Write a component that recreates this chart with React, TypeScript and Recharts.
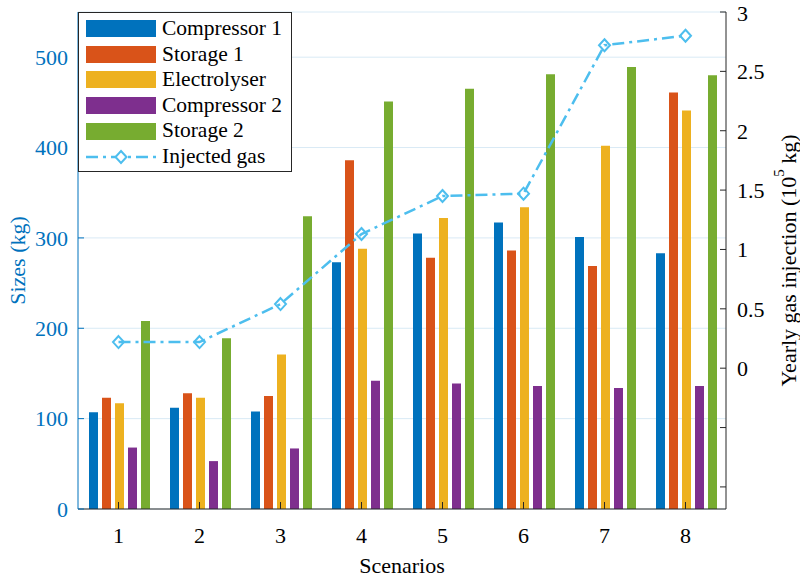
import React from 'react';
import { ComposedChart, Bar, Line, XAxis, YAxis, CartesianGrid, Legend } from 'recharts';

const SCENARIOS = ['1', '2', '3', '4', '5', '6', '7', '8'];
const COMPRESSOR_1 = [107, 112, 108, 273, 305, 317, 301, 283];
const STORAGE_1 = [123, 128, 125, 386, 278, 286, 269, 461];
const ELECTROLYSER = [117, 123, 171, 288, 322, 334, 402, 441];
const COMPRESSOR_2 = [68, 53, 67, 142, 139, 136, 134, 136];
const STORAGE_2 = [208, 189, 324, 451, 465, 481, 489, 480];
const INJECTED_GAS = [0.22, 0.22, 0.54, 1.13, 1.45, 1.47, 2.72, 2.8];

const LEFT_TICKS = [0, 100, 200, 300, 400, 500];
const RIGHT_TICKS = [-1, -0.5, 0, 0.5, 1, 1.5, 2, 2.5, 3];

const FONT = '"Liberation Serif", "Times New Roman", serif';
const BLUE = '#0072BD';
const DARK = '#262626';
const LINE_COLOR = '#4DBEEE';
const DASH = '12 5 3 5';

const BAR_SERIES = [
  { key: 'c1', name: 'Compressor 1', color: '#0072BD' },
  { key: 's1', name: 'Storage 1', color: '#D95319' },
  { key: 'el', name: 'Electrolyser', color: '#EDB120' },
  { key: 'c2', name: 'Compressor 2', color: '#7E2F8E' },
  { key: 's2', name: 'Storage 2', color: '#77AC30' },
];

const data = SCENARIOS.map((s, i) => ({
  scenario: s,
  c1: COMPRESSOR_1[i],
  s1: STORAGE_1[i],
  el: ELECTROLYSER[i],
  c2: COMPRESSOR_2[i],
  s2: STORAGE_2[i],
  gas: INJECTED_GAS[i],
}));

const Diamond = (props: any) => {
  const { cx, cy } = props;
  if (cx == null || cy == null) return null;
  return (
    <polygon
      points={`${cx},${cy - 6} ${cx + 5.5},${cy} ${cx},${cy + 6} ${cx - 5.5},${cy}`}
      fill="none"
      stroke={LINE_COLOR}
      strokeWidth={2}
    />
  );
};

// axis titles, placed from the axis viewBox
const LeftTitle = (props: any) => {
  const { x, y, height } = props.viewBox;
  const cx = x + 17;
  const cy = y + height / 2;
  return (
    <text x={cx} y={cy} transform={`rotate(-90, ${cx}, ${cy})`} textAnchor="middle"
      dominantBaseline="central" fill={BLUE} fontSize={22} fontFamily={FONT}>
      Sizes (kg)
    </text>
  );
};

const RightTitle = (props: any) => {
  const { x, y, height } = props.viewBox;
  const cx = x + 62;
  const cy = y + height / 2;
  return (
    <text x={cx} y={cy} transform={`rotate(-90, ${cx}, ${cy})`} textAnchor="middle"
      dominantBaseline="central" fill="#000" fontSize={22} fontFamily={FONT}>
      Yearly gas injection (10<tspan dy={-9} fontSize={15}>5</tspan><tspan dy={9}> kg)</tspan>
    </text>
  );
};

const BottomTitle = (props: any) => {
  const { x, y, width } = props.viewBox;
  return (
    <text x={x + width / 2} y={y + 64} textAnchor="middle" fill="#000" fontSize={22} fontFamily={FONT}>
      Scenarios
    </text>
  );
};

const LegendBox = () => (
  <div
    style={{
      border: `1px solid ${DARK}`,
      background: '#fff',
      width: 214,
      height: 160,
      boxSizing: 'border-box',
      paddingTop: 3,
      fontFamily: FONT,
      fontSize: 21.5,
      color: '#000',
    }}
  >
    {BAR_SERIES.map((s) => (
      <div key={s.key} style={{ display: 'flex', alignItems: 'center', height: 25.6 }}>
        <div style={{ width: 70, height: 17, background: s.color, marginLeft: 7 }} />
        <span style={{ marginLeft: 6, lineHeight: 1 }}>{s.name}</span>
      </div>
    ))}
    <div style={{ display: 'flex', alignItems: 'center', height: 25.6 }}>
      <svg width={70} height={20} style={{ marginLeft: 7 }}>
        <line x1={0} y1={10} x2={70} y2={10} stroke={LINE_COLOR} strokeWidth={2.5} strokeDasharray={DASH} />
        <polygon points="35,4 40.5,10 35,16 29.5,10" fill="#fff" stroke={LINE_COLOR} strokeWidth={2} />
      </svg>
      <span style={{ marginLeft: 6, lineHeight: 1 }}>Injected gas</span>
    </div>
  </div>
);

export default function App() {
  return (
    <div style={{ position: 'absolute', left: 0, top: 0, background: '#fff' }}>
      <ComposedChart
        width={800}
        height={578}
        data={data}
        margin={{ top: 12, right: 0, bottom: 0, left: 0 }}
        barCategoryGap={11}
        barGap={4}
      >
        <CartesianGrid yAxisId="left" vertical={false} stroke="#d9eaf5" />
        <XAxis
          dataKey="scenario"
          height={69}
          stroke={DARK}
          tickSize={-7}
          tickMargin={25}
          tick={{ fill: '#000', fontSize: 22, fontFamily: FONT }}
          label={<BottomTitle />}
        />
        <XAxis
          xAxisId="top"
          dataKey="scenario"
          orientation="top"
          height={0}
          stroke={DARK}
          tickSize={-7}
          tick={false}
        />
        <YAxis
          yAxisId="left"
          type="number"
          domain={[0, 550]}
          ticks={LEFT_TICKS}
          allowDataOverflow
          width={78}
          stroke={BLUE}
          tickSize={-6}
          tickMargin={16}
          tick={{ fill: BLUE, fontSize: 22, fontFamily: FONT }}
          label={<LeftTitle />}
        />
        <YAxis
          yAxisId="right"
          orientation="right"
          type="number"
          domain={[-1.186, 3]}
          ticks={RIGHT_TICKS}
          allowDataOverflow
          width={74}
          stroke={DARK}
          tickSize={-6}
          tickMargin={17}
          tickFormatter={(v: number) => (v < 0 ? '' : String(v))}
          tick={{ fill: '#000', fontSize: 22, fontFamily: FONT }}
          label={<RightTitle />}
        />
        {BAR_SERIES.map((s) => (
          <Bar
            key={s.key}
            yAxisId="left"
            dataKey={s.key}
            name={s.name}
            fill={s.color}
            isAnimationActive={false}
          />
        ))}
        <Line
          yAxisId="right"
          dataKey="gas"
          name="Injected gas"
          stroke={LINE_COLOR}
          strokeWidth={2.5}
          strokeDasharray={DASH}
          dot={<Diamond />}
          activeDot={false}
          isAnimationActive={false}
        />
        <Legend
          layout="vertical"
          align="center"
          verticalAlign="middle"
          wrapperStyle={{ left: 78, top: 12, width: 214 }}
          content={<LegendBox />}
        />
      </ComposedChart>
    </div>
  );
}
